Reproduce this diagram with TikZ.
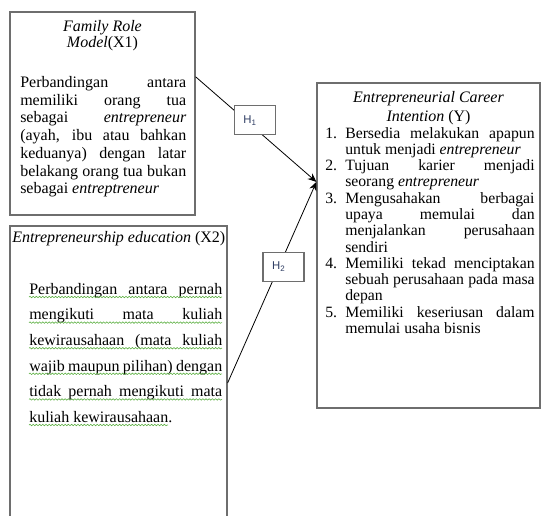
\documentclass[tikz,border=0pt]{standalone}
\usepackage{fontspec}
\setmainfont{Liberation Serif}
\setsansfont{Liberation Sans}
\usetikzlibrary{arrows.meta,calc,fit,decorations.pathmorphing}
\definecolor{Frame}{HTML}{6E6E6E}
\definecolor{Squiggle}{HTML}{5DB043}
\definecolor{HypInk}{HTML}{2E3D63}

\begin{document}
\begin{tikzpicture}[x=0.75pt,y=-0.75pt,
    box/.style={draw=Frame,line width=0.9pt,inner sep=0pt},
    txt/.style={inner sep=0pt,font=\fontsize{12}{12.2}\selectfont},
    hyp/.style={draw=Frame,line width=0.8pt,fill=white,minimum width=30.75pt,
      minimum height=21.5pt,text width=17pt,inner xsep=6pt,align=left,
      font=\sffamily\fontsize{8.5}{10}\selectfont,text=HypInk},
    link/.style={-{Stealth[length=6.5pt,width=5.5pt]},semithick},
    squig/.style={Squiggle,line width=0.45pt,decorate,
      decoration={snake,amplitude=0.55pt,segment length=2.4pt}}]
  \useasboundingbox (0,0) rectangle (541,515);
  \clip (0,0) rectangle (541,515);

  % frames
  \node[box,fit={(10,12) (195,215)}] (famBox) {};
  \node[box,fit={(10,226) (227,540)}] (eduBox) {};
  \node[box,fit={(317,83) (540,408)}] (intBox) {};

  % X1
  \node[txt,anchor=north,align=center] (famHead) at (102.5,20)
    {\emph{Family Role}\\ \emph{Model}(X1)};
  \node[txt,anchor=north west,text width=124.5pt,align=justify,
    font=\fontsize{12}{13.3}\selectfont] (famBody) at (20,76)
    {\hyphenpenalty=10000 Perbandingan antara\linebreak memiliki orang tua\linebreak
     sebagai \emph{entrepreneur}\linebreak (ayah, ibu atau bahkan\linebreak
     keduanya) dengan latar\linebreak belakang orang tua bukan\linebreak
     sebagai \emph{entreptreneur}};

  % X2
  \node[txt,anchor=north west] (eduHead) at (12,231)
    {\emph{Entrepreneurship education} (X2)};
  \node[txt,anchor=north west,text width=144.75pt,align=justify,
    font=\fontsize{12}{19.2}\selectfont] (eduBody) at (29,283)
    {\hyphenpenalty=10000 Perbandingan antara pernah\linebreak mengikuti mata kuliah\linebreak
     kewirausahaan (mata kuliah\linebreak wajib maupun pilihan) dengan\linebreak
     tidak pernah mengikuti mata\linebreak kuliah kewirausahaan.};
  \foreach \y in {297,322.6,348.2,373.8,399.4}
    \draw[squig] (29,\y) -- (222,\y);
  \draw[squig] (29,425) -- (168,425);

  % Y
  \node[txt,anchor=north,align=center] (intHead) at (428.5,91)
    {\emph{Entrepreneurial Career}\\[2pt] \emph{Intention} (Y)};
  \node[txt,anchor=north west,text width=157pt,align=justify,
    font=\fontsize{11.8}{12.2}\selectfont] (intBody) at (325,127)
    {\hyphenpenalty=10000
     \hangindent=15pt\hangafter=1\noindent\makebox[15pt][l]{1.}Bersedia melakukan apapun\linebreak
       untuk menjadi \emph{entrepreneur}\par
     \hangindent=15pt\hangafter=1\noindent\makebox[15pt][l]{2.}Tujuan karier menjadi\linebreak
       seorang \emph{entrepreneur}\par
     \hangindent=15pt\hangafter=1\noindent\makebox[15pt][l]{3.}Mengusahakan berbagai\linebreak
       upaya memulai dan\linebreak menjalankan perusahaan\linebreak sendiri\par
     \hangindent=15pt\hangafter=1\noindent\makebox[15pt][l]{4.}Memiliki tekad menciptakan\linebreak
       sebuah perusahaan pada masa\linebreak depan\par
     \hangindent=15pt\hangafter=1\noindent\makebox[15pt][l]{5.}Memiliki keseriusan dalam\linebreak
       memulai usaha bisnis\par};

  % hypotheses
  \draw[link] ($(famBox.north east)!0.32!(famBox.south east)$)
    -- node[hyp,pos=0.49,yshift=6pt] (hypA) {H\textsubscript{1}}
    ($(intBox.north west)!0.305!(intBox.south west)$);
  \draw[link] ($(eduBox.north east)!0.5!(eduBox.south east)$)
    -- node[hyp,pos=0.577,xshift=3.5pt] (hypB) {H\textsubscript{2}}
    ($(intBox.north west)!0.305!(intBox.south west)$);
\end{tikzpicture}
\end{document}
